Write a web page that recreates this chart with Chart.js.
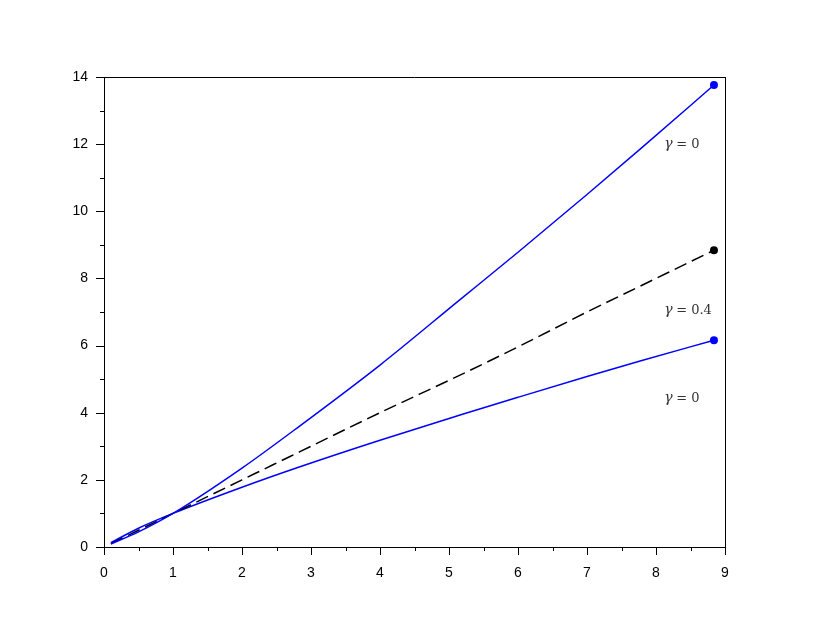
<!DOCTYPE html>
<html>
<head>
<meta charset="utf-8">
<title>gamma curves</title>
<script src="https://cdn.jsdelivr.net/npm/chart.js@4"></script>
<style>
  body { margin: 0; background: #fff; }
  canvas { display: block; }
</style>
</head>
<body>
<canvas id="myChart" width="830" height="626"></canvas>
<script>
// values
var xValues     = [0.1, 0.5, 1, 2, 2.84, 4, 5.16, 6, 7, 7.77, 8.84];
var upperCurve  = [0.09, 0.45, 1, 2.35, 3.61, 5.42, 7.37, 8.78, 10.5, 11.85, 13.76];
var dashedCurve = [0.1, 0.5, 1, 2, 2.84, 4, 5.12, 5.96, 7, 7.77, 8.84];
var lowerCurve  = [0.13, 0.56, 1, 1.78, 2.39, 3.18, 3.93, 4.46, 5.08, 5.54, 6.16];

var xTicks = [0, 1, 2, 3, 4, 5, 6, 7, 8, 9];
var yTicks = [0, 2, 4, 6, 8, 10, 12, 14];

var curveLabels = [
  { text: "0",   x: 8.35, y: 12.0 },
  { text: "0.4", x: 8.35, y: 7.05 },
  { text: "0",   x: 8.35, y: 4.42 }
];

function toPoints(ys) {
  return xValues.map(function (x, i) { return { x: x, y: ys[i] }; });
}
// only the last point gets a dot
function endDot(r) {
  return xValues.map(function (x, i) { return i == xValues.length - 1 ? r : 0; });
}

// ticks (major + minor), the box frame and the gamma labels
var extras = {
  id: 'extras',
  afterDraw: function (chart) {
    var c = chart.ctx, xs = chart.scales.x, ys = chart.scales.y, a = chart.chartArea;
    c.save();
    c.strokeStyle = '#000';
    c.lineWidth = 1;
    c.beginPath();
    for (var v = 0; v <= 9; v += 0.5) {
      var px = Math.round(xs.getPixelForValue(v)) + 0.5;
      var len = (v % 1 == 0) ? 8 : 4;
      c.moveTo(px, a.bottom); c.lineTo(px, a.bottom + len);
    }
    for (var w = 0; w <= 14; w += 1) {
      var py = Math.round(ys.getPixelForValue(w)) + 0.5;
      var l2 = (w % 2 == 0) ? 8 : 4;
      c.moveTo(a.left, py); c.lineTo(a.left - l2, py);
    }
    // top and right of the box
    c.moveTo(a.left, Math.round(a.top) + 0.5); c.lineTo(a.right, Math.round(a.top) + 0.5);
    c.moveTo(Math.round(a.right) + 0.5, a.top); c.lineTo(Math.round(a.right) + 0.5, a.bottom);
    c.stroke();

    c.fillStyle = '#333';
    c.textBaseline = 'middle';
    curveLabels.forEach(function (lb) {
      var lx = xs.getPixelForValue(lb.x), ly = ys.getPixelForValue(lb.y);
      c.font = 'italic 14px "DejaVu Serif", serif';
      c.textAlign = 'left';
      c.fillText('\u03B3', lx - 16, ly);
      c.font = '13px "DejaVu Serif", serif';
      c.fillText('= ' + lb.text, lx - 4, ly);
    });
    c.restore();
  }
};

var ctx = document.getElementById("myChart");
var myChart = new Chart(ctx, {
  type: 'scatter',
  data: {
    datasets: [
      {
        data: toPoints(upperCurve),
        showLine: true,
        borderColor: '#0000ff',
        backgroundColor: '#0000ff',
        borderWidth: 1.5,
        pointRadius: endDot(4),
        pointBorderWidth: 0
      },
      {
        data: toPoints(dashedCurve),
        showLine: true,
        borderColor: '#000',
        backgroundColor: '#000',
        borderWidth: 1.5,
        borderDash: [13, 6],
        pointRadius: endDot(4),
        pointBorderWidth: 0
      },
      {
        data: toPoints(lowerCurve),
        showLine: true,
        borderColor: '#0000ff',
        backgroundColor: '#0000ff',
        borderWidth: 1.5,
        pointRadius: endDot(4),
        pointBorderWidth: 0
      }
    ]
  },
  options: {
    responsive: false,
    animation: false,
    layout: { padding: { left: 0, top: 77, right: 105, bottom: 39 } },
    plugins: { legend: { display: false }, tooltip: { enabled: false } },
    elements: { line: { cubicInterpolationMode: 'monotone' } },
    scales: {
      x: {
        type: 'linear',
        min: 0, max: 9,
        afterBuildTicks: function (s) { s.ticks = xTicks.map(function (v) { return { value: v }; }); },
        afterFit: function (s) { s.height = 40; },
        grid: { display: false },
        border: { display: true, color: '#000', width: 1 },
        ticks: { color: '#000', padding: 10, maxRotation: 0, font: { family: 'Liberation Sans, Arial', size: 14 } }
      },
      y: {
        type: 'linear',
        min: 0, max: 14,
        afterBuildTicks: function (s) { s.ticks = yTicks.map(function (v) { return { value: v }; }); },
        afterFit: function (s) { s.width = 104; },
        grid: { display: false },
        border: { display: true, color: '#000', width: 1 },
        ticks: { color: '#000', padding: 8, font: { family: 'Liberation Sans, Arial', size: 14 } }
      }
    }
  },
  plugins: [extras]
});
</script>
</body>
</html>
